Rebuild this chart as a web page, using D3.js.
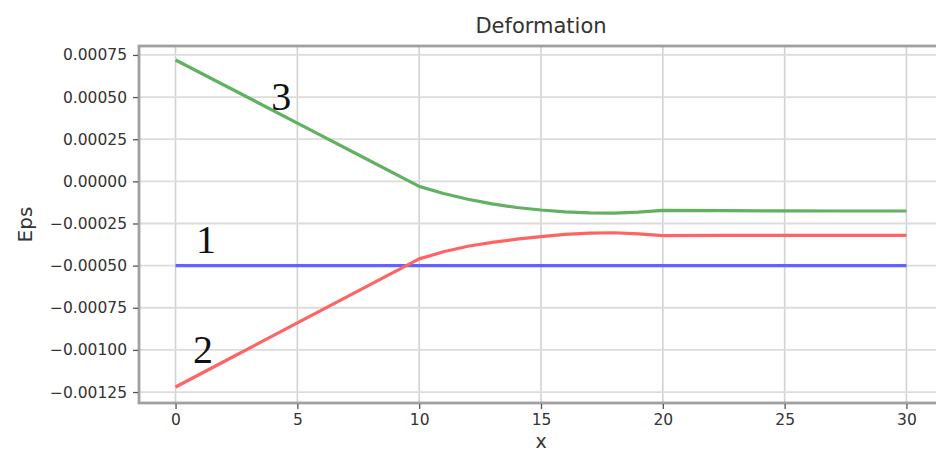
<!DOCTYPE html>
<html>
<head>
<meta charset="utf-8">
<script src="https://cdn.jsdelivr.net/npm/d3@7"></script>
<style>
  html, body { margin: 0; padding: 0; background: #fff; }
  svg { display: block; }
</style>
</head>
<body>
<svg id="chart" width="936" height="454"></svg>
<script>
// ---- data ----
const xValues = [0, 2.5, 5, 7.5, 10, 11, 12, 13, 14, 15, 16, 17, 18, 19, 20, 22.5, 25, 27.5, 30];
const series1 = [-0.0005, -0.0005, -0.0005, -0.0005, -0.0005, -0.0005, -0.0005, -0.0005, -0.0005, -0.0005,
                 -0.0005, -0.0005, -0.0005, -0.0005, -0.0005, -0.0005, -0.0005, -0.0005, -0.0005];
const series2 = [-0.00122, -0.00103, -0.00084, -0.00065, -0.00046, -0.000418, -0.000385, -0.000362, -0.000343, -0.000328,
                 -0.000315, -0.000307, -0.000305, -0.000312, -0.000322, -0.00032, -0.00032, -0.00032, -0.00032];
const series3 = [0.00072, 0.000533, 0.000345, 0.000158, -0.00003, -0.000072, -0.000106, -0.000134, -0.000155, -0.00017,
                 -0.000181, -0.000187, -0.000188, -0.000183, -0.000172, -0.000174, -0.000175, -0.000176, -0.000176];
const xTicks = [0, 5, 10, 15, 20, 25, 30];
const yTicks = [-0.00125, -0.001, -0.00075, -0.0005, -0.00025, 0, 0.00025, 0.0005, 0.00075];
const labels = ["1", "2", "3"];
const labelX = [1.25, 1.13, 4.34];
const labelY = [-0.000425, -0.001078, 0.000423];
const titleText = "Deformation";
const xLabel = "x";
const yLabel = "Eps";

// ---- layout ----
const mLeft = 139, mRight = 943, mTop = 46, mBottom = 403;
const svg = d3.select("#chart");
const x = d3.scaleLinear().domain([-1.5, 31.5]).range([mLeft, mRight]);
const y = d3.scaleLinear().domain([-0.001315, 0.000803]).range([mBottom, mTop]);

// grid
const g = svg.append("g");
g.selectAll(".vg").data(xTicks).join("line")
  .attr("x1", d => x(d)).attr("x2", d => x(d)).attr("y1", mTop).attr("y2", mBottom)
  .attr("stroke", "#d2d2d2").attr("stroke-width", 1.6);
g.selectAll(".hg").data(yTicks).join("line")
  .attr("x1", mLeft).attr("x2", mRight).attr("y1", d => y(d)).attr("y2", d => y(d))
  .attr("stroke", "#dcdcdc").attr("stroke-width", 1.8);

// lines
const line = d3.line().x((d, i) => x(xValues[i])).y(d => y(d)).curve(d3.curveLinear);
const seriesList = [
  { vals: series1, color: "#6262ff" },
  { vals: series2, color: "#ff6464" },
  { vals: series3, color: "#62b062" }
];
svg.selectAll(".series").data(seriesList).join("path")
  .attr("d", d => line(d.vals))
  .attr("fill", "none").attr("stroke", d => d.color).attr("stroke-width", 3.2)
  .attr("stroke-linejoin", "round").attr("stroke-linecap", "butt");

// frame
svg.append("rect").attr("x", mLeft).attr("y", mTop).attr("width", mRight - mLeft).attr("height", mBottom - mTop)
  .attr("fill", "none").attr("stroke", "#a0a0a0").attr("stroke-width", 2.8);

// axes
const fmt = d => d3.format(".5f")(d).replace("-", "\u2212");
const yAxis = d3.axisLeft(y).tickValues(yTicks).tickFormat(fmt).tickSize(5).tickPadding(6);
const ya = svg.append("g").attr("transform", `translate(${mLeft - 1},0)`).call(yAxis);
const xAxis = d3.axisBottom(x).tickValues(xTicks).tickFormat(d3.format("d")).tickSize(5).tickPadding(5);
const xa = svg.append("g").attr("transform", `translate(0,${mBottom + 1})`).call(xAxis);
[ya, xa].forEach(a => {
  a.select(".domain").remove();
  a.selectAll(".tick line").attr("stroke", "#555").attr("stroke-width", 1.3);
  a.selectAll(".tick text").attr("fill", "#333").attr("font-family", "DejaVu Sans").attr("font-size", 15.5);
});

// annotations
svg.selectAll(".lab").data(labels).join("text")
  .attr("x", (d, i) => x(labelX[i])).attr("y", (d, i) => y(labelY[i]))
  .attr("text-anchor", "middle")
  .attr("font-family", "Liberation Serif").attr("font-size", 40).attr("fill", "#111")
  .text(d => d);

// title and axis labels
svg.append("text").attr("x", (mLeft + mRight) / 2).attr("y", 33).attr("text-anchor", "middle")
  .attr("font-family", "DejaVu Sans").attr("font-size", 21).attr("fill", "#333").text(titleText);
svg.append("text").attr("x", (mLeft + mRight) / 2).attr("y", 448).attr("text-anchor", "middle")
  .attr("font-family", "DejaVu Sans").attr("font-size", 19).attr("fill", "#333").text(xLabel);
svg.append("text").attr("transform", `translate(32,${(mTop + mBottom) / 2}) rotate(-90)`).attr("text-anchor", "middle")
  .attr("font-family", "DejaVu Sans").attr("font-size", 20).attr("fill", "#333").text(yLabel);
</script>
</body>
</html>
